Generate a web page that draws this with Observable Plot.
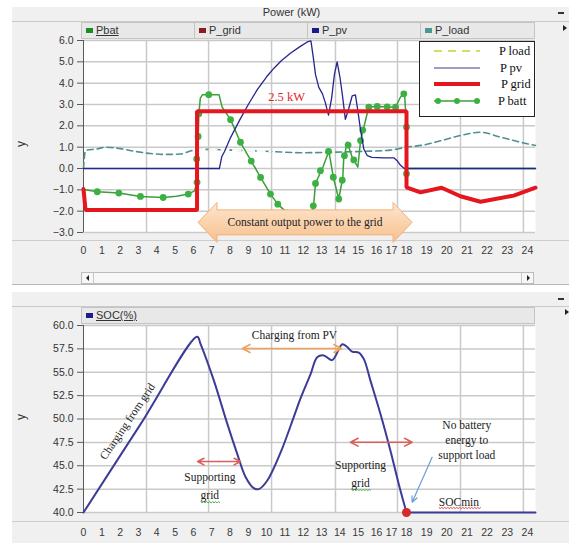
<!DOCTYPE html>
<html><head><meta charset="utf-8">
<script src="https://cdn.jsdelivr.net/npm/d3@7"></script>
<script src="https://cdn.jsdelivr.net/npm/@observablehq/plot@0.6"></script>
<style>
html,body{margin:0;padding:0;background:#fff;}
#root{position:relative;width:569px;height:543px;overflow:hidden;font-family:"Liberation Sans",Arial,sans-serif;color:#333;}
.panel{position:absolute;left:12px;width:557px;background:#f0f0f0;}
.hl{position:absolute;left:12px;width:557px;height:1px;}
.hdr{position:absolute;left:81px;width:452px;height:15px;background:#e8e8e8;border:1px solid #c4c4c4;font-size:11px;}
.cell{position:absolute;top:0;height:15px;line-height:15px;padding-left:4px;box-sizing:border-box;width:113px;border-right:1px solid #c4c4c4;white-space:nowrap;}
.cell.last{border-right:none;}
.sw{display:inline-block;width:7px;height:5px;margin-right:3px;vertical-align:1px;}
.ylab{position:absolute;font-size:12px;transform:rotate(-90deg);color:#333;}
.dash{position:absolute;width:6px;height:2px;background:#333;}
.tri{position:absolute;width:0;height:0;border-top:3px solid transparent;border-bottom:3px solid transparent;}
.scroll{position:absolute;left:81px;top:272px;width:451px;height:10px;border:1px solid #bcbcbc;background:#f7f7f7;}
.legend{position:absolute;left:419px;top:41px;width:114px;height:74px;border:1px solid #222;background:#fff;font-family:"Liberation Serif",serif;font-size:12.5px;color:#111;}
.legend span{position:absolute;line-height:14px;}
.chart{position:absolute;left:0;}
</style></head><body><div id="root">
  <div class="panel" style="top:7px;height:277px;"></div>
  <div class="panel" style="top:292px;height:251px;"></div>
  <div class="hl" style="top:21px;background:#c9c9c9"></div>
  <div class="hl" style="top:240px;background:#cdcdcd"></div>
  <div class="hl" style="top:284px;background:#b8b8b8"></div>
  <div class="hl" style="top:306px;background:#c9c9c9"></div>
  <div class="hl" style="top:521px;background:#cdcdcd"></div>
  <div style="position:absolute;left:0;width:569px;top:6px;text-align:center;font-size:11px;color:#333;"><span style="position:relative;left:7px">Power (kW)</span></div>
  <div class="dash" style="left:558px;top:12px"></div>
  <div class="dash" style="left:558px;top:298px"></div>
  <div class="tri" style="left:563px;top:25px;border-left:4px solid #222"></div>
  <div class="tri" style="left:565px;top:309px;border-left:4px solid #222"></div>
  <div class="hdr" style="top:22px">
    <div class="cell" style="left:0"><span class="sw" style="background:#1e8c1e"></span><u>Pbat</u></div>
    <div class="cell" style="left:113px"><span class="sw" style="background:#8e1b1b"></span>P_grid</div>
    <div class="cell" style="left:226px"><span class="sw" style="background:#1b1b8a"></span>P_pv</div>
    <div class="cell last" style="left:339px"><span class="sw" style="background:#4b9797"></span>P_load</div>
  </div>
  <div class="hdr" style="top:307px">
    <div class="cell last" style="left:0;width:300px"><span class="sw" style="background:#1b1b8a"></span><u>SOC(%)</u></div>
  </div>
  <div class="scroll">
    <div style="position:absolute;left:0;top:0;width:11px;height:10px;border-right:1px solid #c8c8c8"></div>
    <div class="tri" style="left:4px;top:2px;border-right:3px solid #222"></div>
    <div style="position:absolute;right:0;top:0;width:11px;height:10px;border-left:1px solid #c8c8c8"></div>
    <div class="tri" style="right:3px;top:2px;border-left:3px solid #222"></div>
  </div>
  <div class="ylab" style="left:18px;top:137px">y</div>
  <div class="ylab" style="left:18px;top:410px">y</div>
</div>
<script>
// ---------- data ----------
const hourLabels = [0,1,2,3,4,5,6,7,8,9,10,11,12,13,14,15,16,17,18,19,20,21,22,23,24];
const gridlineHours = [3.44, 6.83, 10.27, 13.76, 17.4, 20.68, 23.8];
const powerTicks = [-3,-2,-1,0,1,2,3,4,5,6];
const socTicks = [40,42.5,45,47.5,50,52.5,55,57.5,60];

// [hour, kW]
const pvSeries = [[0,0],[7.42,0],[7.55,0.55],[7.7,0.8],[8.0,1.4],[8.57,2.34],[9.0,3.0],[9.49,3.7],[10.0,4.3],[10.39,4.69],[10.8,5.05],[11.3,5.4],[11.8,5.7],[12.22,5.93],[12.42,5.98],[12.55,5.2],[12.67,4.4],[12.85,3.8],[13.05,3.5],[13.2,3.1],[13.38,2.5],[13.55,3.3],[13.7,4.4],[13.85,5.0],[14.0,4.3],[14.13,3.5],[14.3,2.3],[14.48,2.8],[14.67,3.4],[14.85,3.45],[15.0,2.6],[15.13,1.8],[15.31,0.9],[15.5,0.6],[15.75,0.52],[16.5,0.5],[17.15,0.5],[17.4,0.35],[17.6,0.15],[17.85,0],[24.4,0]];
const battSeries = [[0,-0.96],[0.1,-1.0],[0.75,-1.09],[1.93,-1.15],[3.11,-1.31],[4.35,-1.36],[5.08,-1.3],[5.72,-1.2],[6.06,-1.05],[6.2,-0.65],[6.18,0.45],[6.26,1.5],[6.3,2.57],[6.38,3.3],[6.5,3.46],[7.4,3.46],[7.57,2.88],[8.03,2.29],[8.57,1.23],[9.16,0.35],[9.67,-0.42],[10.21,-1.2],[10.61,-1.67],[11.12,-2.08],[11.5,-2.4],[11.9,-2.5],[12.25,-2.35],[12.49,-2.05],[12.58,-1.59],[12.67,-0.7],[13.07,0.06],[13.4,0.81],[13.64,-0.41],[13.94,-1.43],[14.16,-0.41],[14.21,0.45],[14.4,1.24],[14.67,0.53],[14.98,0.06],[15.13,1.31],[15.4,2.26],[15.58,2.88],[16.05,2.91],[17.27,2.87],[17.6,3.35],[17.87,3.54],[18.0,1.94],[18.0,-0.25],[18.05,0],[24.4,0]];
const battDots = [[0.75,-1.09],[1.93,-1.15],[3.11,-1.31],[4.35,-1.36],[5.72,-1.2],[6.2,-0.65],[6.18,0.45],[6.26,1.5],[6.3,2.57],[6.84,3.46],[8.03,2.29],[8.57,1.23],[9.16,0.35],[9.67,-0.42],[10.21,-1.2],[10.61,-1.67],[11.12,-2.08],[12.55,-1.75],[12.67,-0.7],[12.94,-0.1],[13.38,0.8],[13.64,-0.41],[13.94,-1.43],[14.13,-0.55],[14.25,0.6],[14.45,1.1],[14.76,0.4],[15.13,1.31],[15.25,1.8],[15.58,2.88],[16.05,2.91],[16.71,2.89],[17.27,2.87],[17.82,3.5],[18.0,1.94],[18.0,-0.25]];
const gridSeries = [[0,-0.96],[0.11,-1.94],[6.2,-1.94],[6.2,2.68],[18.0,2.68],[18.0,-0.88],[18.69,-1.12],[19.74,-0.9],[20.68,-1.3],[21.67,-1.56],[23.32,-1.27],[24.4,-0.9]];
const loadSeries = [[0,0],[0.11,0.85],[0.76,0.92],[1.2,1.0],[2.02,0.93],[2.84,0.8],[3.66,0.7],[4.48,0.66],[5.3,0.68],[5.84,0.82],[6.23,0.9],[8.57,0.85],[10.21,0.8],[11.85,0.74],[13.49,0.76],[15.13,0.8],[16.93,0.86],[18.0,1.0],[18.84,1.1],[19.69,1.3],[20.68,1.55],[21.67,1.7],[22.66,1.47],[23.66,1.23],[24.4,1.08]];
// [hour, %]
const socSeries = [[0,40],[3.1,49.4],[6.21,58.8],[6.39,58.04],[7.12,54.1],[7.85,49.5],[8.39,46.3],[8.85,43.8],[9.3,42.6],[9.57,42.5],[10.03,43.4],[10.76,46.4],[11.48,50.2],[11.85,52.2],[12.4,54.8],[12.76,56.6],[13.12,56.8],[13.58,56.3],[14.13,58.0],[14.4,57.7],[14.67,57.2],[15.03,57.1],[15.31,56.4],[15.67,54.1],[16.27,50.5],[16.93,46.6],[17.49,43.0],[18.0,40],[24.4,40]];
const socMin = [[18.0, 40]];
const socMinHour = 18.0;

// annotations
const powerNote = [{h: 11.09, v: 3.34, text: "2.5 kW"}];
const constantArrow = {from: 6.28, to: 18.3, at: -2.55, text: "Constant output power to the grid"};
const socNotes = [
  {h: 2.4, v: 49.73, text: "Charging from grid", rot: -56},
  {h: 11.52, v: 58.93, text: "Charging from PV", rot: 0},
  {h: 6.9, v: 43.74, text: "Supporting", rot: 0},
  {h: 6.9, v: 41.82, text: "grid", rot: 0},
  {h: 15.13, v: 45.03, text: "Supporting", rot: 0},
  {h: 15.13, v: 43.13, text: "grid", rot: 0},
  {h: 20.99, v: 49.3, text: "No battery", rot: 0},
  {h: 20.99, v: 47.7, text: "energy to", rot: 0},
  {h: 20.99, v: 46.1, text: "support load", rot: 0},
  {h: 20.6, v: 41.1, text: "SOCmin", rot: 0}
];
const socSpans = [
  {from: 8.68, to: 14.09, at: 57.54, color: "#f0a05a"},
  {from: 6.23, to: 8.57, at: 45.45, color: "#d9605c"},
  {from: 14.58, to: 18.28, at: 47.52, color: "#d9605c"}
];
const socPointer = [{x1: 19.27, y1: 45.91, x2: 18.28, y2: 41.1}];

// ---------- scales ----------
const xScale = {type: "linear", domain: [0, 16, 18, 24.4], range: [83, 376, 406, 535], axis: null};
const gridStyle = {stroke: "#c9c9c9", strokeWidth: 1.5};
const baseStyle = {background: "transparent", fontFamily: "Liberation Sans, Arial, sans-serif", fontSize: "10.5px", color: "#333", overflow: "visible"};
const serif = "Liberation Serif, Times New Roman, serif";
const H = d => d[0], V = d => d[1];

const topChart = Plot.plot({
  width: 569, height: 290, marginTop: 40, marginBottom: 58, marginLeft: 83, marginRight: 34,
  style: baseStyle,
  x: xScale,
  y: {domain: [-3, 6]},
  marks: [
    Plot.frame({fill: "white"}),
    Plot.ruleY(powerTicks, gridStyle),
    Plot.ruleX(gridlineHours, gridStyle),
    Plot.ruleX([0], {stroke: "#5a5a5a"}),
    Plot.axisY({ticks: powerTicks, tickFormat: d3.format(".1f"), tickSize: 6, tickPadding: 4, label: null, stroke: "#5a5a5a"}),
    Plot.text(hourLabels, {x: d => d, text: d => String(d), frameAnchor: "bottom", dy: 18, lineAnchor: "middle", fill: "#3a3a3a"}),
    Plot.line(loadSeries, {x: H, y: V, stroke: "#4f8f8f", strokeWidth: 1.6, strokeDasharray: "6,4", curve: "monotone-x"}),
    Plot.line(loadSeries, {x: H, y: V, filter: d => d[0] >= 6.2 && d[0] <= 10.3, stroke: "#fbfbf0", strokeWidth: 2.2, strokeDasharray: "7,5", curve: "monotone-x"}),
    Plot.line(battSeries, {x: H, y: V, stroke: "#3a9f3a", strokeWidth: 1.5}),
    Plot.dot(battDots, {x: H, y: V, r: 3.4, fill: "#3cb043"}),
    Plot.line(pvSeries, {x: H, y: V, stroke: "#25258e", strokeWidth: 1.3}),
    Plot.line(gridSeries, {x: H, y: V, stroke: "#e6161e", strokeWidth: 4, strokeLinejoin: "miter"}),
    Plot.text(powerNote, {x: "h", y: "v", text: "text", fill: "#e4252b", fontFamily: serif, fontSize: 12.5})
  ]
});

const botChart = Plot.plot({
  width: 569, height: 253, marginTop: 35, marginBottom: 31, marginLeft: 83, marginRight: 34,
  style: baseStyle,
  x: xScale,
  y: {domain: [40, 60]},
  marks: [
    Plot.frame({fill: "white"}),
    Plot.ruleY(socTicks, gridStyle),
    Plot.ruleX(gridlineHours, gridStyle),
    Plot.ruleX([0], {stroke: "#5a5a5a"}),
    Plot.axisY({ticks: socTicks, tickFormat: d3.format(".1f"), tickSize: 6, tickPadding: 4, label: null, stroke: "#5a5a5a"}),
    Plot.text(hourLabels, {x: d => d, text: d => String(d), frameAnchor: "bottom", dy: 20, lineAnchor: "middle", fill: "#3a3a3a"}),
    Plot.line(socSeries, {x: H, y: V, filter: d => d[0] <= socMinHour, stroke: "#3c3c98", strokeWidth: 2, curve: "catmull-rom"}),
    Plot.line(socSeries, {x: H, y: V, filter: d => d[0] >= socMinHour, stroke: "#3c3c98", strokeWidth: 2}),
    Plot.dot(socMin, {x: H, y: V, r: 4.5, fill: "#d32a2a"}),
    Plot.arrow(socSpans.flatMap(s => [
      {x1: (s.from + s.to) / 2, x2: s.from, y: s.at, c: s.color},
      {x1: (s.from + s.to) / 2, x2: s.to, y: s.at, c: s.color}
    ]), {x1: "x1", x2: "x2", y1: "y", y2: "y", stroke: "c", strokeWidth: 1.6, headLength: 8, headAngle: 55}),
    Plot.arrow(socPointer, {x1: "x1", y1: "y1", x2: "x2", y2: "y2", stroke: "#6b9fd6", strokeWidth: 1.2, headLength: 8, headAngle: 50}),
    Plot.text(socNotes, {x: "h", y: "v", text: "text", rotate: "rot", fill: "#222", fontFamily: serif, fontSize: 11.5})
  ]
});

topChart.classList.add("chart"); topChart.style.top = "0px";
botChart.classList.add("chart"); botChart.style.top = "290px";
const root = document.getElementById("root");
root.appendChild(topChart);
root.appendChild(botChart);

// block arrow drawn with the chart's own scales
(function () {
  const sx = topChart.scale("x"), sy = topChart.scale("y");
  const fx = sx.apply ? (v => sx.apply(v)) : d3.scaleLinear(sx.domain, sx.range);
  const fy = sy.apply ? (v => sy.apply(v)) : d3.scaleLinear(sy.domain, sy.range);
  const a = fx(constantArrow.from), b = fx(constantArrow.to), c = fy(constantArrow.at);
  const hb = 12.5, hh = 20, hl = 19;
  const svg = d3.select(topChart);
  const defs = svg.append("defs");
  const g = defs.append("linearGradient").attr("id", "arrowGrad").attr("x1", 0).attr("x2", 0).attr("y1", 0).attr("y2", 1);
  g.append("stop").attr("offset", "0%").attr("stop-color", "#fde6cf");
  g.append("stop").attr("offset", "100%").attr("stop-color", "#f7c08c");
  const p = d3.path();
  p.moveTo(a, c); p.lineTo(a + hl, c - hh); p.lineTo(a + hl, c - hb); p.lineTo(b - hl, c - hb);
  p.lineTo(b - hl, c - hh); p.lineTo(b, c); p.lineTo(b - hl, c + hh); p.lineTo(b - hl, c + hb);
  p.lineTo(a + hl, c + hb); p.lineTo(a + hl, c + hh); p.closePath();
  svg.append("path").attr("d", p.toString()).attr("fill", "url(#arrowGrad)").attr("stroke", "#f1b27a").attr("stroke-width", 1);
  svg.append("text").attr("x", (a + b) / 2).attr("y", c).attr("dy", "0.35em").attr("text-anchor", "middle")
    .attr("font-family", serif).attr("font-size", 11.5).attr("fill", "#222").text(constantArrow.text);
})();

// wavy spell-check underlines, placed in each text's own coordinate frame
d3.select(botChart).selectAll("text").each(function () {
  const t = this.textContent;
  if (t !== "grid" && t !== "SOCmin") return;
  const bb = this.getBBox();
  const y0 = bb.y + bb.height - 0.5;
  let d = `M${bb.x},${y0}`;
  for (let x = bb.x, k = 0; x < bb.x + bb.width; x += 1.5, k++) d += `L${x + 1.5},${y0 + (k % 2 ? 0 : 1.2)}`;
  const tr = this.getAttribute("transform");
  const path = d3.select(this.parentNode).append("path").attr("d", d).attr("fill", "none")
    .attr("stroke", t === "grid" ? "#3aa83a" : "#e0302a").attr("stroke-width", 0.9);
  if (tr) path.attr("transform", tr);
});
</script>
<div class="legend" style="z-index:5">
  <svg width="114" height="74" style="position:absolute;left:0;top:0">
    <line x1="14" y1="9" x2="60" y2="9" stroke="#d3de6a" stroke-width="2" stroke-dasharray="8,6"/>
    <line x1="14" y1="26" x2="60" y2="26" stroke="#3a3a90" stroke-width="1"/>
    <line x1="14" y1="42" x2="60" y2="42" stroke="#e6161e" stroke-width="4"/>
    <line x1="14" y1="59" x2="60" y2="59" stroke="#3a9f3a" stroke-width="1.5"/>
    <circle cx="18" cy="59" r="3" fill="#3cb043"/>
    <circle cx="37" cy="59" r="3" fill="#3cb043"/>
    <circle cx="57" cy="59" r="3" fill="#3cb043"/>
  </svg>
  <span style="left:79px;top:2px">P load</span>
  <span style="left:80px;top:19px">P pv</span>
  <span style="left:81px;top:35px">P grid</span>
  <span style="left:78px;top:52px">P batt</span>
</div>
</body></html>
